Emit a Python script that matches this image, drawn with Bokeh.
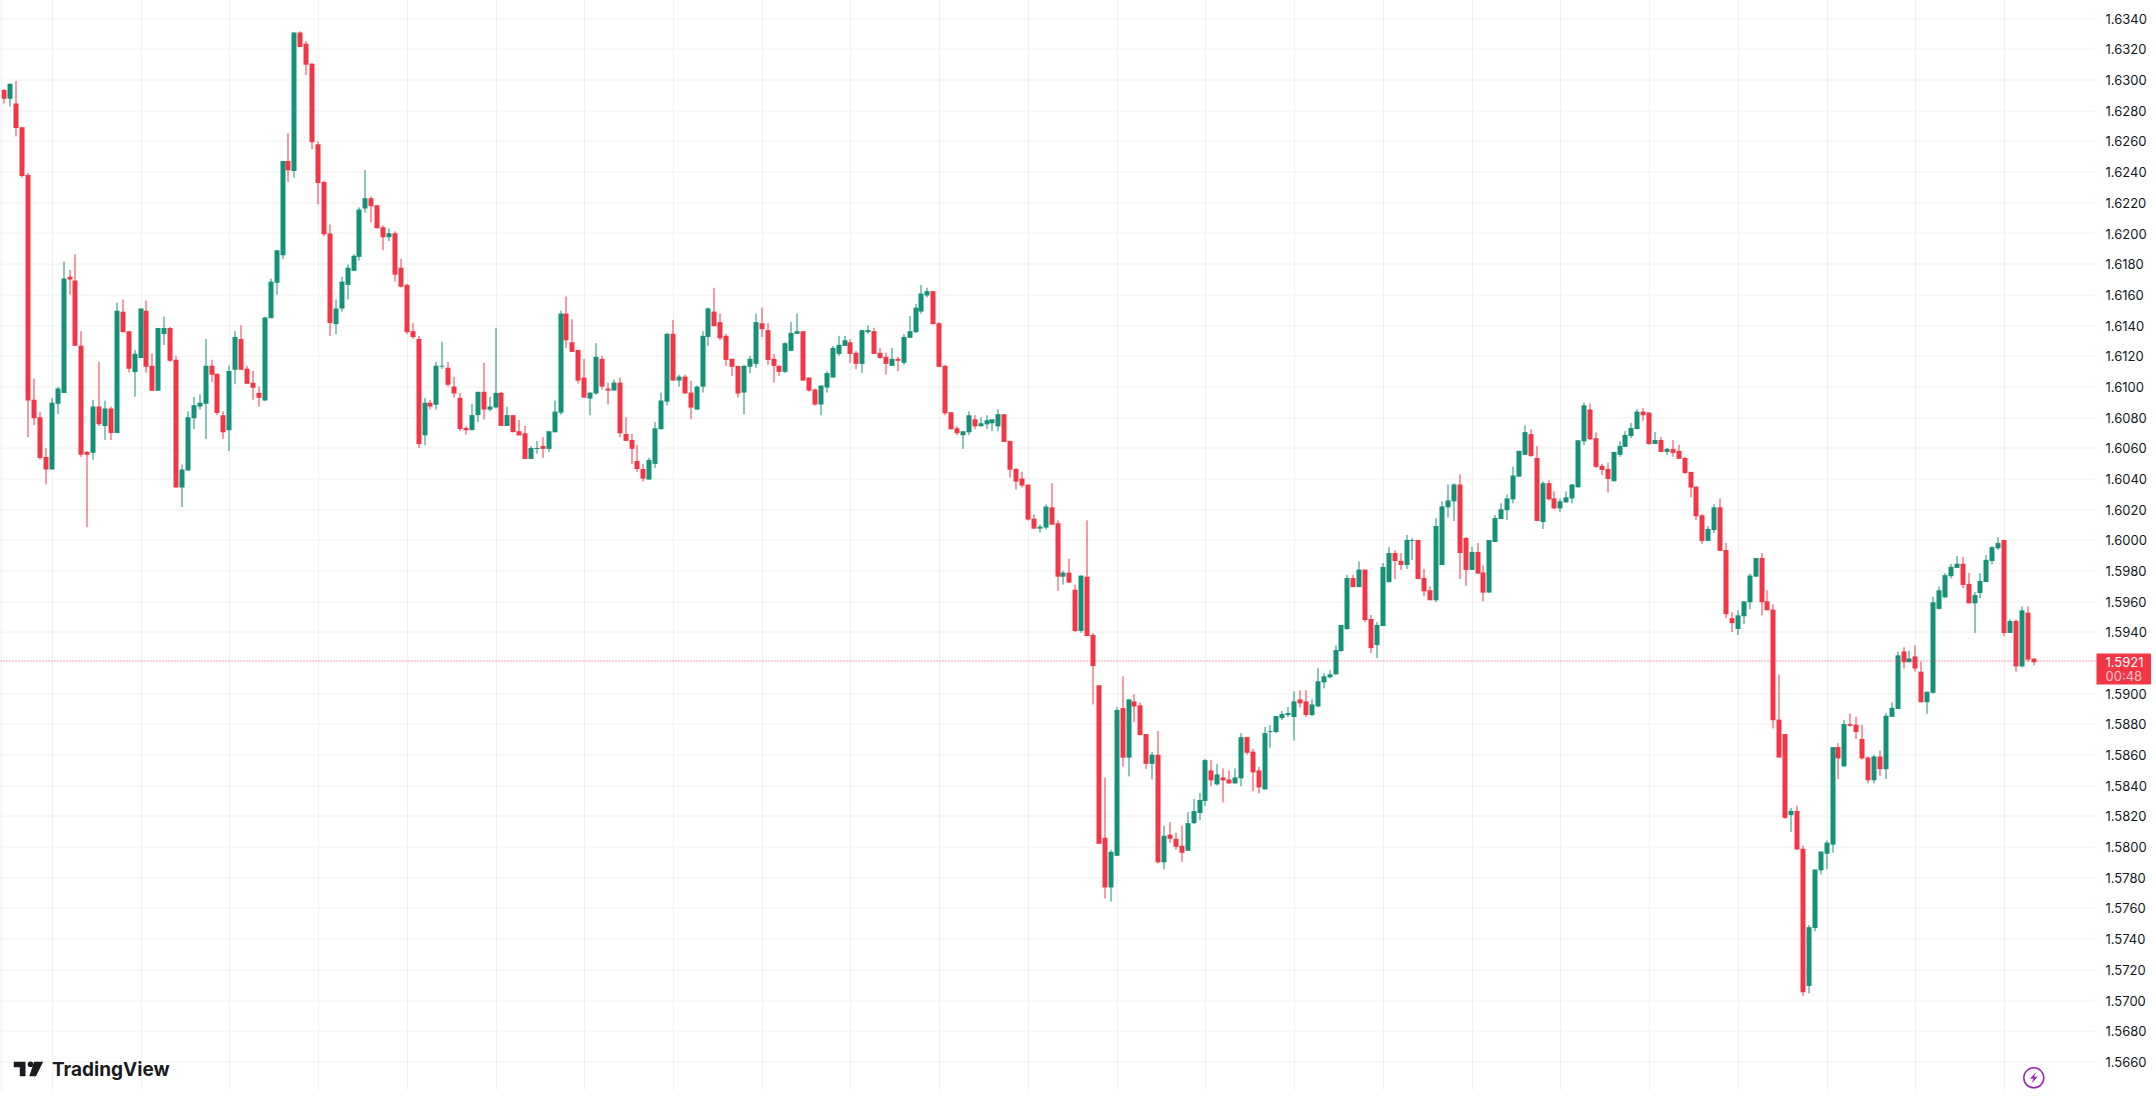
import math
from bokeh.plotting import figure
from bokeh.models import ColumnDataSource, FixedTicker, Span, Label, BoxAnnotation, NumeralTickFormatter
from bokeh.embed import file_html
from bokeh.resources import INLINE

open_ = [
1.62936,1.62879,1.62847,1.62693,1.62382,1.60916,1.60802,1.60543,1.60462,1.60890,
1.60961,1.61718,1.61693,1.61268,1.60575,1.60570,1.60872,1.60745,1.60859,1.60700,
1.61490,1.61363,1.61097,1.61189,1.61497,1.61138,1.60975,1.61345,1.61384,1.61177,
1.60345,1.60455,1.60795,1.60872,1.60890,1.61138,1.61086,1.60816,1.60718,1.61111,
1.61313,1.61118,1.61027,1.60961,1.60911,1.61448,1.61679,1.61858,1.62472,1.62407,
1.63311,1.63237,1.63106,1.62582,1.62336,1.62000,1.61409,1.61511,1.61665,1.61757,
1.61848,1.62163,1.62230,1.62184,1.62041,1.61975,1.62002,1.61777,1.61665,1.61363,
1.61313,1.60684,1.60897,1.60884,1.61132,1.61125,1.61002,1.60929,1.60732,1.60718,
1.60816,1.60968,1.60852,1.60866,1.60961,1.60745,1.60816,1.60711,1.60698,1.60530,
1.60595,1.60615,1.60596,1.60704,1.60832,1.61478,1.61291,1.61241,1.61061,1.60924,
1.60957,1.61183,1.60989,1.60976,1.61028,1.60693,1.60654,1.60517,1.60465,1.60396,
1.60498,1.60724,1.60904,1.61346,1.61041,1.61067,1.60963,1.60852,1.61002,1.61326,
1.61491,1.61422,1.61333,1.61183,1.61137,1.60963,1.61131,1.61150,1.61415,1.61370,
1.61183,1.61137,1.61098,1.61235,1.61346,1.61363,1.61061,1.60983,1.60885,1.60996,
1.61061,1.61215,1.61267,1.61291,1.61222,1.61150,1.61357,1.61363,1.61222,1.61196,
1.61137,1.61183,1.61157,1.61320,1.61357,1.61491,1.61596,1.61624,1.61415,1.61137,
1.60835,1.60730,1.60685,1.60704,1.60789,1.60743,1.60756,1.60763,1.60743,1.60822,
1.60648,1.60465,1.60402,1.60363,1.60141,1.60076,1.60083,1.60215,1.60111,1.59763,
1.59789,1.59678,1.59409,1.59763,1.59383,1.59055,1.58061,1.57737,1.57943,1.58906,
1.58583,1.58950,1.58924,1.58737,1.58543,1.58602,1.57901,1.58081,1.58054,1.58009,
1.57976,1.58156,1.58222,1.58301,1.58500,1.58409,1.58454,1.58441,1.58415,1.58448,
1.58717,1.58622,1.58500,1.58376,1.58750,1.58750,1.58841,1.58861,1.58848,1.58963,
1.58950,1.58861,1.58917,1.59074,1.59107,1.59126,1.59277,1.59422,1.59754,1.59695,
1.59809,1.59487,1.59317,1.59441,1.59727,1.59917,1.59866,1.59839,1.59996,1.60002,
1.59755,1.59674,1.59609,1.59839,1.60215,1.60254,1.60364,1.60015,1.59807,1.59924,
1.59790,1.59659,1.59989,1.60139,1.60196,1.60267,1.60415,1.60557,1.60692,1.60537,
1.60119,1.60372,1.60273,1.60208,1.60247,1.60273,1.60345,1.60645,1.60853,1.60665,
1.60485,1.60465,1.60385,1.60557,1.60609,1.60680,1.60725,1.60839,1.60833,1.60628,
1.60654,1.60576,1.60596,1.60583,1.60537,1.60446,1.60350,1.60163,1.59996,1.60067,
1.60215,1.59937,1.59492,1.59422,1.59505,1.59596,1.59763,1.59885,1.59602,1.59548,
1.58831,1.58737,1.58209,1.58236,1.57989,1.57095,1.57472,1.57849,1.57957,1.58016,
1.58652,1.58526,1.58802,1.58798,1.58705,1.58584,1.58436,1.58591,1.58508,1.58849,
1.58901,1.59276,1.59205,1.59243,1.59144,1.58944,1.59006,1.59553,1.59627,1.59766,
1.59820,1.59847,1.59716,1.59589,1.59656,1.59728,1.59865,1.59948,1.60002,1.59396,
1.59474,1.59178,1.59529,1.59229]

high = [
1.62943,1.62977,1.62995,1.62693,1.62395,1.61054,1.60834,1.60602,1.60929,1.61002,
1.61816,1.61763,1.61865,1.61363,1.60582,1.60916,1.61163,1.60911,1.60872,1.61550,
1.61570,1.61363,1.61241,1.61511,1.61563,1.61216,1.61384,1.61458,1.61390,1.61202,
1.60494,1.60841,1.60936,1.60952,1.61313,1.61177,1.61086,1.60841,1.61138,1.61363,
1.61402,1.61138,1.61104,1.61002,1.61458,1.61706,1.61890,1.62472,1.62654,1.63311,
1.63318,1.63255,1.63111,1.62600,1.62343,1.62059,1.61570,1.61718,1.61798,1.61865,
1.62170,1.62414,1.62241,1.62184,1.62052,1.62034,1.62014,1.61836,1.61672,1.61416,
1.61332,1.60929,1.60916,1.61163,1.61295,1.61163,1.61066,1.60961,1.60745,1.60890,
1.60968,1.61157,1.60936,1.61384,1.60968,1.60872,1.60816,1.60784,1.60745,1.60614,
1.60648,1.60672,1.60711,1.60911,1.61498,1.61589,1.61441,1.61241,1.61183,1.60963,
1.61285,1.61202,1.61028,1.61048,1.61061,1.60802,1.60693,1.60622,1.60498,1.60537,
1.60770,1.60963,1.61352,1.61437,1.61080,1.61080,1.61041,1.61009,1.61363,1.61517,
1.61646,1.61478,1.61346,1.61183,1.61137,1.61144,1.61202,1.61478,1.61517,1.61415,
1.61215,1.61144,1.61291,1.61422,1.61478,1.61363,1.61061,1.60989,1.61009,1.61102,
1.61267,1.61333,1.61333,1.61311,1.61235,1.61370,1.61402,1.61385,1.61254,1.61222,
1.61254,1.61196,1.61346,1.61463,1.61541,1.61665,1.61646,1.61624,1.61422,1.61144,
1.60835,1.60743,1.60711,1.60841,1.60815,1.60802,1.60815,1.60789,1.60854,1.60822,
1.60648,1.60472,1.60446,1.60363,1.60170,1.60102,1.60233,1.60372,1.60130,1.59802,
1.59880,1.59711,1.59770,1.60130,1.59396,1.59055,1.58454,1.57982,1.58912,1.59113,
1.58963,1.58996,1.58943,1.58737,1.58620,1.58756,1.58140,1.58163,1.58094,1.58140,
1.58228,1.58313,1.58353,1.58574,1.58567,1.58543,1.58513,1.58500,1.58513,1.58743,
1.58717,1.58641,1.58524,1.58783,1.58796,1.58854,1.58887,1.58913,1.59015,1.59022,
1.59022,1.58963,1.59166,1.59133,1.59153,1.59316,1.59448,1.59774,1.59774,1.59862,
1.59809,1.59513,1.59467,1.59852,1.59956,1.59935,1.59917,1.60035,1.60015,1.60002,
1.59813,1.59700,1.60145,1.60254,1.60364,1.60371,1.60430,1.60022,1.59957,1.59983,
1.59836,1.60002,1.60165,1.60241,1.60300,1.60480,1.60583,1.60750,1.60724,1.60615,
1.60385,1.60391,1.60319,1.60273,1.60319,1.60364,1.60652,1.60898,1.60892,1.60704,
1.60498,1.60505,1.60576,1.60648,1.60713,1.60765,1.60855,1.60861,1.60833,1.60706,
1.60674,1.60602,1.60654,1.60622,1.60544,1.60446,1.60350,1.60170,1.60093,1.60235,
1.60273,1.59983,1.59531,1.59544,1.59602,1.59783,1.59885,1.59917,1.59674,1.59582,
1.59126,1.58737,1.58256,1.58270,1.58009,1.57492,1.57854,1.57971,1.58043,1.58652,
1.58677,1.58829,1.58870,1.58850,1.58798,1.58591,1.58602,1.58629,1.58874,1.58944,
1.59276,1.59303,1.59281,1.59315,1.59209,1.59013,1.59633,1.59699,1.59786,1.59847,
1.59899,1.59892,1.59789,1.59663,1.59786,1.59903,1.59962,1.60020,1.60002,1.59485,
1.59485,1.59569,1.59569,1.59229]

low = [
1.62847,1.62827,1.62633,1.62364,1.60672,1.60750,1.60525,1.60364,1.60462,1.60823,
1.60961,1.61602,1.61268,1.60543,1.60086,1.60525,1.60745,1.60654,1.60654,1.60700,
1.61357,1.61093,1.60936,1.61189,1.61093,1.60975,1.60975,1.61273,1.61163,1.60345,
1.60216,1.60455,1.60725,1.60852,1.60661,1.61033,1.60816,1.60661,1.60582,1.61020,
1.61111,1.61020,1.60916,1.60872,1.60911,1.61448,1.61602,1.61833,1.62336,1.62364,
1.63216,1.63034,1.62550,1.62189,1.61982,1.61332,1.61345,1.61490,1.61570,1.61757,
1.61823,1.62136,1.62073,1.62034,1.61890,1.61950,1.61686,1.61648,1.61345,1.61313,
1.60602,1.60620,1.60852,1.60852,1.61118,1.61002,1.60929,1.60711,1.60689,1.60718,
1.60770,1.60789,1.60841,1.60859,1.60745,1.60745,1.60705,1.60684,1.60530,1.60530,
1.60564,1.60537,1.60576,1.60704,1.60819,1.61254,1.61228,1.61022,1.60930,1.60815,
1.60950,1.60983,1.60885,1.60976,1.60672,1.60648,1.60498,1.60446,1.60383,1.60396,
1.60472,1.60724,1.60878,1.61041,1.61002,1.60957,1.60789,1.60852,1.60963,1.61267,
1.61396,1.61304,1.61137,1.61072,1.60930,1.60822,1.61090,1.61124,1.61326,1.61144,
1.61028,1.61072,1.61090,1.61235,1.61346,1.61041,1.60970,1.60878,1.60815,1.60963,
1.61061,1.61202,1.61267,1.61154,1.61115,1.61090,1.61346,1.61215,1.61183,1.61080,
1.61137,1.61102,1.61144,1.61320,1.61352,1.61478,1.61583,1.61409,1.61131,1.60815,
1.60724,1.60685,1.60596,1.60685,1.60724,1.60743,1.60724,1.60711,1.60711,1.60641,
1.60409,1.60331,1.60344,1.60128,1.60076,1.60050,1.60070,1.60102,1.59671,1.59711,
1.59724,1.59402,1.59396,1.59376,1.58930,1.58022,1.57665,1.57645,1.57943,1.58524,
1.58461,1.58815,1.58730,1.58510,1.58441,1.57894,1.57855,1.58028,1.57983,1.57904,
1.57976,1.58150,1.58176,1.58267,1.58396,1.58402,1.58291,1.58415,1.58415,1.58396,
1.58602,1.58363,1.58350,1.58376,1.58648,1.58743,1.58828,1.58848,1.58694,1.58911,
1.58848,1.58854,1.58911,1.59035,1.59100,1.59126,1.59277,1.59415,1.59695,1.59695,
1.59467,1.59264,1.59232,1.59441,1.59727,1.59747,1.59807,1.59813,1.59872,1.59748,
1.59635,1.59609,1.59596,1.59839,1.60150,1.60126,1.59748,1.59704,1.59807,1.59783,
1.59602,1.59659,1.59989,1.60139,1.60132,1.60241,1.60415,1.60557,1.60544,1.60126,
1.60074,1.60260,1.60202,1.60183,1.60247,1.60241,1.60345,1.60619,1.60652,1.60472,
1.60425,1.60311,1.60385,1.60544,1.60609,1.60667,1.60725,1.60780,1.60622,1.60628,
1.60576,1.60557,1.60544,1.60531,1.60433,1.60279,1.60132,1.59976,1.59996,1.60048,
1.59931,1.59492,1.59402,1.59383,1.59454,1.59550,1.59763,1.59511,1.59544,1.58773,
1.58584,1.58184,1.58099,1.57984,1.57029,1.57047,1.57451,1.57822,1.57854,1.57964,
1.58443,1.58526,1.58784,1.58705,1.58571,1.58416,1.58416,1.58463,1.58443,1.58849,
1.58901,1.59164,1.59205,1.59144,1.58944,1.58869,1.59000,1.59548,1.59627,1.59752,
1.59820,1.59689,1.59589,1.59396,1.59622,1.59728,1.59845,1.59937,1.59375,1.59396,
1.59144,1.59171,1.59209,1.59184]

close = [
1.62879,1.62977,1.62688,1.62375,1.60911,1.60795,1.60536,1.60462,1.60897,1.60989,
1.61706,1.61700,1.61268,1.60557,1.60557,1.60872,1.60757,1.60859,1.60700,1.61497,
1.61357,1.61118,1.61216,1.61511,1.61132,1.60975,1.61384,1.61384,1.61170,1.60345,
1.60462,1.60802,1.60880,1.60897,1.61138,1.61079,1.60830,1.60705,1.61104,1.61325,
1.61111,1.61020,1.60995,1.60929,1.61452,1.61686,1.61890,1.62472,1.62413,1.63311,
1.63216,1.63100,1.62595,1.62329,1.61995,1.61416,1.61511,1.61686,1.61777,1.61855,
1.62157,1.62230,1.62177,1.62034,1.61975,1.62002,1.61732,1.61653,1.61357,1.61325,
1.60627,1.60897,1.60872,1.61138,1.61138,1.61014,1.60957,1.60725,1.60718,1.60816,
1.60968,1.60852,1.60872,1.60961,1.60745,1.60816,1.60705,1.60684,1.60530,1.60602,
1.60602,1.60596,1.60711,1.60839,1.61478,1.61304,1.61228,1.61041,1.60930,1.60963,
1.61196,1.61002,1.60976,1.61028,1.60698,1.60648,1.60596,1.60465,1.60402,1.60524,
1.60730,1.60911,1.61346,1.61041,1.61067,1.60957,1.60865,1.61002,1.61333,1.61511,
1.61396,1.61317,1.61176,1.61131,1.60957,1.61137,1.61183,1.61422,1.61376,1.61176,
1.61137,1.61098,1.61285,1.61352,1.61363,1.61041,1.60976,1.60885,1.61009,1.61090,
1.61254,1.61274,1.61304,1.61215,1.61150,1.61370,1.61370,1.61215,1.61189,1.61150,
1.61183,1.61170,1.61326,1.61363,1.61517,1.61609,1.61624,1.61409,1.61131,1.60828,
1.60724,1.60698,1.60711,1.60815,1.60743,1.60763,1.60783,1.60789,1.60822,1.60641,
1.60460,1.60383,1.60357,1.60135,1.60076,1.60089,1.60220,1.60102,1.59763,1.59789,
1.59724,1.59409,1.59770,1.59376,1.59180,1.58022,1.57737,1.57969,1.58893,1.58583,
1.58963,1.58917,1.58730,1.58543,1.58602,1.57901,1.58074,1.58054,1.58002,1.57963,
1.58156,1.58235,1.58307,1.58567,1.58435,1.58474,1.58435,1.58415,1.58454,1.58717,
1.58615,1.58487,1.58389,1.58743,1.58756,1.58854,1.58867,1.58874,1.58950,1.58937,
1.58861,1.58930,1.59081,1.59113,1.59126,1.59284,1.59448,1.59754,1.59695,1.59809,
1.59480,1.59297,1.59448,1.59826,1.59917,1.59865,1.59839,1.60002,1.60002,1.59748,
1.59667,1.59609,1.60093,1.60221,1.60260,1.60364,1.59917,1.59807,1.59924,1.59783,
1.59659,1.60002,1.60145,1.60202,1.60273,1.60422,1.60583,1.60705,1.60550,1.60126,
1.60372,1.60267,1.60208,1.60254,1.60280,1.60364,1.60652,1.60880,1.60659,1.60479,
1.60459,1.60400,1.60576,1.60615,1.60687,1.60732,1.60839,1.60815,1.60628,1.60654,
1.60576,1.60596,1.60570,1.60531,1.60439,1.60344,1.60157,1.59996,1.60074,1.60215,
1.59931,1.59518,1.59460,1.59511,1.59602,1.59770,1.59885,1.59596,1.59544,1.58827,
1.58584,1.58191,1.58236,1.57984,1.57054,1.57478,1.57854,1.57971,1.58029,1.58652,
1.58578,1.58802,1.58791,1.58750,1.58578,1.58436,1.58591,1.58508,1.58856,1.58908,
1.59250,1.59205,1.59230,1.59164,1.58944,1.59013,1.59596,1.59674,1.59773,1.59827,
1.59847,1.59709,1.59589,1.59643,1.59735,1.59873,1.59955,1.59982,1.59396,1.59474,
1.59178,1.59543,1.59222,1.59205]

price_ticks = [round(1.5660 + 0.002 * k, 4) for k in range(35) if k != 13]
last_price = "1.5921"
last_value = 1.5921
countdown = "00:48"
brand = "TradingView"

RED = "#F23645"
GREEN = "#149178"
W, H = 2151, 1090
RIGHT = 2095

# layout helpers: page pixel <-> data
def py(y): return 1.59 + (693.2 - y) / 15340.0
def yp(v): return 693.2 - (v - 1.59) * 15340.0
def px(x): return 8 + (x - 51.3) / 5.916
def xp(i): return 51.3 + (i - 8) * 5.916
def snap_x(i): return px(math.floor(xp(i)) + 0.5)
def snap_y(v): return py(math.floor(yp(v)) + 0.5)

idx = list(range(len(open_)))
xs = [snap_x(i) for i in idx]
colors = [GREEN if c >= o else RED for o, c in zip(open_, close)]
src = ColumnDataSource(dict(x=xs, o=open_, h=high, l=low, c=close, col=colors,
                            top=[max(a, b) for a, b in zip(open_, close)],
                            bot=[min(a, b) for a, b in zip(open_, close)]))

p = figure(width=W, height=H, output_backend="svg", toolbar_location=None,
           x_range=(px(0), px(W)), y_range=(py(H), py(0)),
           y_axis_location="right", margin=(0, 0, 0, 0),
           min_border_left=0, min_border_top=0, min_border_bottom=0, min_border_right=0)
p.background_fill_color = "white"
p.border_fill_color = "white"
p.outline_line_color = None
p.xaxis.visible = False

GRID = "#f0f0f0"
# price grid stops where the price scale begins
grid_y = [snap_y(t) for t in price_ticks]
p.segment([px(0)] * len(grid_y), grid_y, [px(RIGHT)] * len(grid_y), grid_y,
          line_color=GRID, line_width=1)
p.ygrid.visible = False
p.xgrid.ticker = FixedTicker(ticks=[snap_x(i) for i in range(8, len(idx), 15)])
p.xgrid.grid_line_color = GRID
p.xgrid.grid_line_width = 1

ax = p.yaxis[0]
ax.fixed_location = px(RIGHT)
ax.ticker = FixedTicker(ticks=price_ticks)
ax.formatter = NumeralTickFormatter(format="0.0000")
ax.axis_line_color = None
ax.major_tick_line_color = None
ax.minor_tick_line_color = None
ax.major_tick_out = 0
ax.major_tick_in = 0
ax.major_label_standoff = 10
ax.major_label_text_font = "Inter"
ax.major_label_text_font_size = "13px"
ax.major_label_text_color = "#131722"

p.add_layout(Span(location=px(0.5), dimension="height", line_color="#e6e6e6", line_width=1))

p.segment("x", "h", "x", "l", source=src, line_color="col", line_width=1)
p.vbar("x", width=5 / 5.916, top="top", bottom="bot", source=src,
       fill_color="col", line_color=None)

p.add_layout(Span(location=snap_y(last_value), dimension="width", line_color=RED,
                  line_width=1, line_dash="1 2"))

# price tag on the scale
box = BoxAnnotation(left=px(2096), right=px(2151), top=py(653), bottom=py(684),
                    fill_color=RED, fill_alpha=1, line_color=None, border_radius=(0, 2, 2, 0))
p.add_layout(box)
p.add_layout(Label(x=px(2105), y=py(661.5), text=last_price, text_color="white",
                   text_font="Inter", text_font_size="13px", text_baseline="middle"))
p.add_layout(Label(x=px(2105), y=py(675.5), text=countdown, text_color="#f7c5ca",
                   text_font="Inter", text_font_size="13px", text_baseline="middle"))

# brand mark
INK = "#1b1b1f"
p.patch([px(v) for v in (13.3, 25, 25, 19.3, 19.3, 13.3)],
        [py(v) for v in (1061.3, 1061.3, 1075.7, 1075.7, 1066.7, 1066.7)],
        fill_color=INK, line_color=None)
p.scatter([px(30)], [py(1063.8)], size=5.6, marker="circle", fill_color=INK, line_color=None)
p.patch([px(v) for v in (33.6, 42.7, 35.5, 28.8)],
        [py(v) for v in (1061.3, 1061.3, 1075.7, 1075.7)],
        fill_color=INK, line_color=None)
p.add_layout(Label(x=px(51.5), y=py(1069), text=brand, text_color=INK, text_font="Inter",
                   text_font_size="19px", text_font_style="bold", text_baseline="middle"))

# flash icon
PURPLE = "#9c27b0"
p.scatter([px(2033.3)], [py(1077.3)], size=20, marker="circle", fill_color=None,
          line_color=PURPLE, line_width=1.5)
p.patch([px(v) for v in (2035.5, 2029.5, 2033, 2031, 2037.2, 2033.6)],
        [py(v) for v in (1071.5, 1078.2, 1078.2, 1083, 1076.2, 1076.2)],
        fill_color=PURPLE, line_color=None)

open("out.html", "w").write(file_html(p, INLINE))
